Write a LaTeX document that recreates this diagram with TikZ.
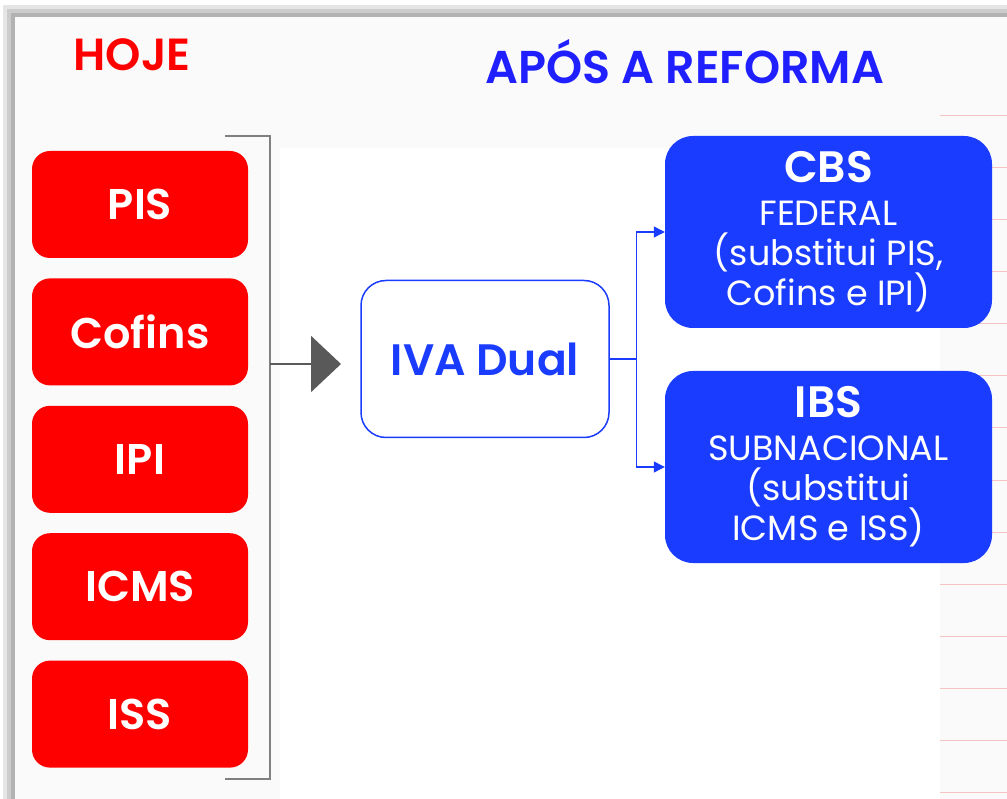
\documentclass[tikz,border=0pt]{standalone}
\usepackage{fontspec}
\setmainfont{Poppins}[BoldFont={Poppins SemiBold}]
\usetikzlibrary{arrows.meta,positioning}
\definecolor{vermelho}{HTML}{FF0000}
\definecolor{azul}{HTML}{1A3CFF}
\definecolor{titulo}{HTML}{1F1FFF}
\definecolor{fundo}{HTML}{FAFAFA}
\definecolor{rosa}{HTML}{F6C4C4}
\tikzset{
  imposto/.style={fill=vermelho, text=white, rounded corners=18pt, minimum width=216pt, minimum height=107pt, font=\bfseries\fontsize{43}{46}\selectfont},
  tributo/.style={fill=azul, text=white, rounded corners=28pt, minimum width=327pt, minimum height=192pt, align=center, font=\fontsize{35}{40}\selectfont},
  iva/.style={draw=azul, line width=1.5pt, fill=white, rounded corners=25pt, minimum width=248pt, minimum height=157pt, text=azul, font=\bfseries\fontsize{44}{46}\selectfont},
  chave/.style={draw=gray, line width=1.6pt},
  seta/.style={-{Triangle[length=30pt,width=56pt]}, draw=black!65, line width=2pt},
  liga/.style={-{Triangle[length=11pt,width=11pt]}, draw=azul, line width=1.2pt},
}
\newcommand{\sigla}[1]{{\bfseries\fontsize{44}{44}\selectfont #1}}

\begin{document}
\begin{tikzpicture}[x=1pt, y=-1pt, node distance=20pt]
  \useasboundingbox (0,0) rectangle (1007,799);
  % sombra e painel
  \fill[white] (0,0) rectangle (1007,799);
  \fill[gray!20] (3,5) rectangle (1007,799);
  \fill[gray!40] (7,9) rectangle (1007,799);
  \fill[gray!60] (11,13) rectangle (1007,799);
  \fill[fundo] (15,17) rectangle (1007,799);
  \fill[white] (280,148) rectangle (940,799);
  \foreach \k in {0,...,13}
    \draw[rosa, line width=1pt] (940,116+52*\k) -- (1007,116+52*\k);

  \node[text=vermelho, font=\bfseries\fontsize{45}{46}\selectfont] (hoje) at (132,55) {HOJE};
  \node[text=titulo, font=\bfseries\fontsize{46}{48}\selectfont] (apos) at (685,62) {APÓS A REFORMA};

  \node[imposto] (pis) at (140,204.5) {PIS};
  \node[imposto, below=of pis] (cofins) {Cofins};
  \node[imposto, below=of cofins] (ipi) {IPI};
  \node[imposto, below=of ipi] (icms) {ICMS};
  \node[imposto, below=of icms] (iss) {ISS};

  \coordinate (chTop) at (225,136);
  \coordinate (chBot) at (225,779);
  \coordinate (chMid) at (270,364);
  \draw[chave] (chTop) -| (chMid) |- (chBot);

  \node[iva] (iva) at (485,359) {IVA Dual};
  \coordinate (ponta) at (341,364);
  \draw[seta] (chMid) -- (ponta);

  \node[tributo] (cbs) at (828.5,232) {\sigla{CBS}\\[3pt] FEDERAL\\(substitui PIS,\\Cofins e IPI)};
  \node[tributo] (ibs) at (828.5,467) {\sigla{IBS}\\[3pt] SUBNACIONAL\\(substitui\\ICMS e ISS)};

  \draw[liga] (iva.east) -- ++(27,0) |- (cbs.west);
  \draw[liga] (iva.east) -- ++(27,0) |- (ibs.west);
\end{tikzpicture}
\end{document}
